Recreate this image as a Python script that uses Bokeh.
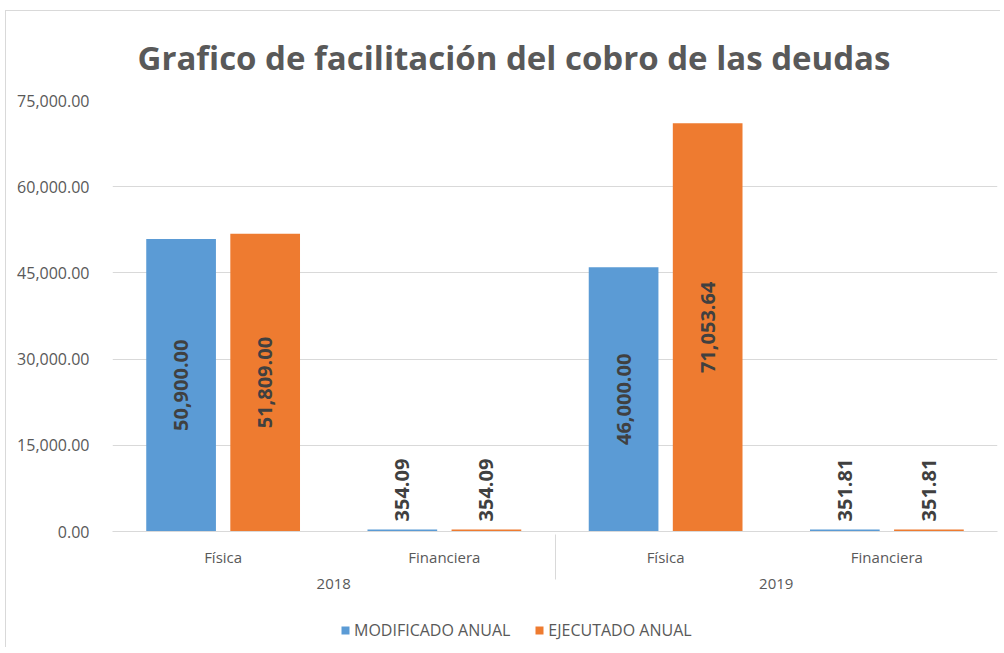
import numpy as np
from bokeh.plotting import figure
from bokeh.layouts import column
from bokeh.models import ColumnDataSource, FactorRange, NumeralTickFormatter, Legend, LegendItem, FixedTicker
from bokeh.transform import dodge
from bokeh.core.properties import value
from bokeh.embed import file_html
from bokeh.resources import INLINE

TITLE = "Grafico de facilitación del cobro de las deudas"
YEARS = ["2018", "2018", "2019", "2019"]
TYPES = ["Física", "Financiera", "Física", "Financiera"]
SERIES = ["MODIFICADO ANUAL", "EJECUTADO ANUAL"]
MODIFICADO = [50900.00, 354.09, 46000.00, 351.81]
EJECUTADO = [51809.00, 354.09, 71053.64, 351.81]
Y_TICKS = [0, 15000, 30000, 45000, 60000, 75000]

COLORS = ["#5B9BD5", "#EE7B30"]
FONT = "Open Sans"
GRAY = "#595959"

factors = list(zip(YEARS, TYPES))
x_range = FactorRange(*factors, factor_padding=0, group_padding=0, subgroup_padding=0, range_padding=0)

p = figure(x_range=x_range, y_range=(0, 75000), width=994, height=592,
           output_backend="svg", toolbar_location=None, tools="",
           min_border_left=106, min_border_right=3, min_border_top=87,
           min_border_bottom=72)

p.title.text = TITLE
p.title.text_font = FONT
p.title.text_font_style = "bold"
p.title.text_font_size = "33px"
p.title.text_color = GRAY
p.title.align = "left"
p.title.offset = 25
p.title.standoff = 42

p.outline_line_color = None
p.background_fill_color = "white"
p.border_fill_color = "white"

p.xgrid.grid_line_color = None
p.ygrid.grid_line_color = "#D9D9D9"
p.ygrid.grid_line_width = 1

p.yaxis.ticker = FixedTicker(ticks=Y_TICKS)
p.yaxis.formatter = NumeralTickFormatter(format="0,0.00")
p.yaxis.axis_line_color = None
p.yaxis.major_tick_line_color = None
p.yaxis.minor_tick_line_color = None
p.yaxis.major_label_text_font = FONT
p.yaxis.major_label_text_font_size = "16px"
p.yaxis.major_label_text_color = GRAY
p.yaxis.major_label_standoff = 17

xa = p.xaxis[0]
xa.axis_line_color = "#D9D9D9"
xa.major_tick_line_color = None
xa.minor_tick_line_color = None
xa.major_label_text_font = FONT
xa.major_label_text_font_size = "15px"
xa.major_label_text_color = GRAY
xa.major_label_standoff = 9
xa.group_text_font = FONT
xa.group_text_font_size = "15px"
xa.group_text_color = GRAY
xa.group_text_font_style = "normal"
xa.separator_line_color = "#D9D9D9"
xa.separator_line_width = 1

offsets = [-0.19, 0.19]
for vals, color, off in zip([MODIFICADO, EJECUTADO], COLORS, offsets):
    src = ColumnDataSource(dict(x=factors, top=vals))
    p.vbar(x=dodge("x", off, range=x_range), top="top", width=0.315, source=src,
           fill_color=color, line_color=None)

    vals_arr = np.array(vals)
    labels = ["{:,.2f}".format(v) for v in vals]
    big = vals_arr > 5000
    src_in = ColumnDataSource(dict(x=[f for f, b in zip(factors, big) if b],
                                   y=list(vals_arr[big] / 2),
                                   t=[l for l, b in zip(labels, big) if b]))
    p.text(x=dodge("x", off, range=x_range), y="y", text="t", source=src_in,
           angle=np.pi / 2, text_align="center", text_baseline="middle",
           text_font=value(FONT), text_font_style="bold", text_font_size="20px",
           text_color="#404040")
    src_out = ColumnDataSource(dict(x=[f for f, b in zip(factors, big) if not b],
                                    y=list(vals_arr[~big]),
                                    t=[l for l, b in zip(labels, big) if not b]))
    p.text(x=dodge("x", off, range=x_range), y="y", text="t", source=src_out,
           angle=np.pi / 2, text_align="left", text_baseline="middle", y_offset=-8,
           text_font=value(FONT), text_font_style="bold", text_font_size="20px",
           text_color="#404040")

# legend strip below the chart (renderers carry no visible data; they only supply legend swatches)
lf = figure(width=994, height=44, output_backend="svg", toolbar_location=None, tools="",
            x_axis_location=None, y_axis_location=None, x_range=(0, 1), y_range=(0, 1),
            min_border_left=0, min_border_right=0, min_border_top=0, min_border_bottom=0)
lf.outline_line_color = None
lf.xgrid.grid_line_color = None
lf.ygrid.grid_line_color = None
lf.border_fill_color = "white"
lrs = []
for color in COLORS:
    s = ColumnDataSource(dict(x=np.array([np.nan]), top=np.array([np.nan])))
    lrs.append(lf.vbar(x="x", top="top", width=0.1, source=s, fill_color=color, line_color=None))
legend = Legend(items=[LegendItem(label=s, renderers=[r]) for s, r in zip(SERIES, lrs)],
                orientation="horizontal", location=(228, 6))
legend.glyph_width = 10
legend.glyph_height = 10
legend.label_text_font = FONT
legend.label_text_font_size = "16px"
legend.label_text_color = GRAY
legend.spacing = 24
legend.label_standoff = 4
legend.border_line_color = None
legend.background_fill_alpha = 0
legend.padding = 4
legend.margin = 0
lf.add_layout(legend)

layout = column(p, lf, spacing=0,
                styles={"border-left": "1px solid #D9D9D9", "border-top": "1px solid #D9D9D9",
                        "margin-left": "5px", "margin-top": "10px"})

open("out.html", "w").write(file_html(layout, INLINE))
